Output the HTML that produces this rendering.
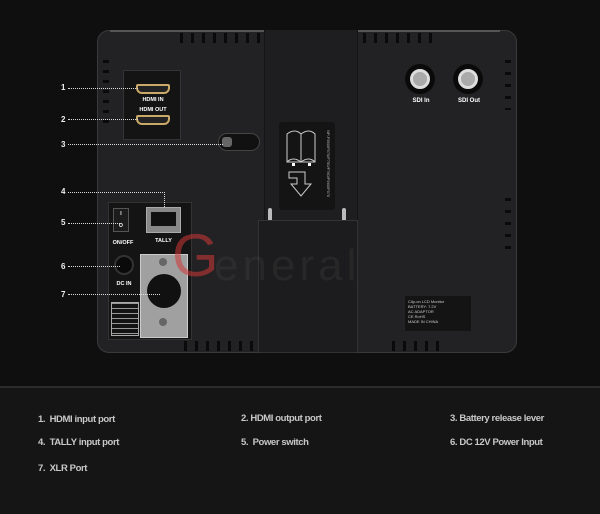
<!DOCTYPE html>
<html><head><meta charset="utf-8"><style>
*{margin:0;padding:0;box-sizing:border-box}
body{width:600px;height:514px;background:#0f0f0f;position:relative;overflow:hidden;font-family:"Liberation Sans",sans-serif}
.a{position:absolute}
.lbl{color:#c8c8c8;font-size:9.5px;font-weight:bold;letter-spacing:-0.4px}
.wt{color:#fff;font-size:5.5px;font-weight:bold;text-align:center}
.dot{border-top:1px dotted #ddd;height:0}
.n{color:#eee;font-size:8px;font-weight:bold}
</style></head><body>
<div class="a" style="left:97px;top:30px;width:420px;height:323px;background:#222224;border-radius:12px;border:1px solid #3a3a3c"></div>
<div class="a" style="left:110px;top:30px;width:390px;height:2px;background:#555"></div>
<div class="a" style="left:264px;top:30px;width:94px;height:323px;background:#1e1e20;border-left:1px solid #141414;border-right:1px solid #141414"></div>
<div class="a" style="left:279px;top:122px;width:56px;height:88px;background:#141414;border-radius:3px"></div>
<svg class="a" style="left:279px;top:122px" width="56" height="88">
<path d="M8 12 q8-6 14 0 v28 h-14z M22 12 q8-6 14 0 v28 h-14z" fill="none" stroke="#ccc" stroke-width="1"/>
<path d="M8 40 q6-6 14 0 q8-6 14 0" fill="none" stroke="#ccc" stroke-width="1"/>
<rect x="13" y="41" width="3" height="3" fill="#fff"/><rect x="29" y="41" width="3" height="3" fill="#fff"/>
<path d="M10 50 h16 v12 h6 l-10 12 l-10-12 h6 v-6 h-8z" fill="none" stroke="#ccc" stroke-width="1"/>
<text x="48" y="8" fill="#bbb" font-size="4" transform="rotate(90 48 8)" font-family="Liberation Sans">NP-F550/F570/F750/F760/F960/F970</text>
</svg>
<div class="a" style="left:268px;top:208px;width:4px;height:16px;background:#bbb;border-radius:2px"></div>
<div class="a" style="left:342px;top:208px;width:4px;height:16px;background:#bbb;border-radius:2px"></div>
<div class="a" style="left:258px;top:220px;width:100px;height:133px;background:#1c1c1e;border:1px solid #333"></div>
<div class="a" style="left:180px;top:33px;width:80px;height:10px;background:repeating-linear-gradient(90deg,#0a0a0a 0 3px,transparent 3px 11px)"></div>
<div class="a" style="left:363px;top:33px;width:70px;height:10px;background:repeating-linear-gradient(90deg,#0a0a0a 0 3px,transparent 3px 11px)"></div>
<div class="a" style="left:184px;top:341px;width:70px;height:10px;background:repeating-linear-gradient(90deg,#0a0a0a 0 3px,transparent 3px 11px)"></div>
<div class="a" style="left:392px;top:341px;width:50px;height:10px;background:repeating-linear-gradient(90deg,#0a0a0a 0 3px,transparent 3px 11px)"></div>
<div class="a" style="left:103px;top:60px;width:6px;height:70px;background:repeating-linear-gradient(180deg,#0a0a0a 0 3px,transparent 3px 10px)"></div>
<div class="a" style="left:505px;top:60px;width:6px;height:50px;background:repeating-linear-gradient(180deg,#0a0a0a 0 3px,transparent 3px 12px)"></div>
<div class="a" style="left:505px;top:198px;width:6px;height:60px;background:repeating-linear-gradient(180deg,#0a0a0a 0 3px,transparent 3px 12px)"></div>
<div class="a" style="left:123px;top:70px;width:58px;height:70px;background:#141414;border:1px solid #333"></div>
<div class="a" style="left:136px;top:84px;width:34px;height:10px;background:#222;border:2px solid #c9a86a;border-radius:2px 2px 6px 6px"></div>
<div class="a wt" style="left:130px;top:97px;width:46px">HDMI IN</div>
<div class="a wt" style="left:130px;top:107px;width:46px">HDMI OUT</div>
<div class="a" style="left:136px;top:115px;width:34px;height:10px;background:#222;border:2px solid #c9a86a;border-radius:2px 2px 6px 6px"></div>
<div class="a" style="left:218px;top:133px;width:42px;height:18px;background:#111;border:1px solid #444;border-radius:9px"></div>
<div class="a" style="left:222px;top:137px;width:10px;height:10px;background:#666;border-radius:3px"></div>
<div class="a" style="left:108px;top:202px;width:84px;height:138px;background:#141414;border:1px solid #333"></div>
<div class="a" style="left:113px;top:208px;width:16px;height:24px;background:#1c1c1c;border:1px solid #555"></div>
<div class="a wt" style="left:113px;top:211px;width:16px;font-size:5px">I<br><br>O</div>
<div class="a wt" style="left:110px;top:240px;width:26px">ON/OFF</div>
<div class="a" style="left:146px;top:207px;width:35px;height:26px;background:#888;border:1px solid #aaa"></div>
<div class="a" style="left:151px;top:212px;width:25px;height:14px;background:#111"></div>
<div class="a wt" style="left:146px;top:238px;width:35px">TALLY</div>
<div class="a" style="left:114px;top:255px;width:20px;height:20px;background:#0a0a0a;border:2px solid #333;border-radius:50%"></div>
<div class="a wt" style="left:110px;top:281px;width:28px">DC IN</div>
<div class="a" style="left:140px;top:254px;width:48px;height:84px;background:#a0a0a0;border:1px solid #ccc"></div>
<div class="a" style="left:147px;top:274px;width:34px;height:34px;background:#111;border-radius:50%"></div>
<div class="a" style="left:159px;top:258px;width:8px;height:8px;background:#666;border-radius:50%"></div>
<div class="a" style="left:159px;top:318px;width:8px;height:8px;background:#666;border-radius:50%"></div>
<div class="a" style="left:111px;top:302px;width:28px;height:34px;border:1px solid #aaa;background:repeating-linear-gradient(180deg,#999 0 1px,transparent 1px 5px)"></div>
<div class="a" style="left:405px;top:64px;width:30px;height:30px;background:#0a0a0a;border-radius:50%"></div>
<div class="a" style="left:410px;top:69px;width:20px;height:20px;background:#aaa;border:3px solid #ddd;border-radius:50%"></div>
<div class="a" style="left:453px;top:64px;width:30px;height:30px;background:#0a0a0a;border-radius:50%"></div>
<div class="a" style="left:458px;top:69px;width:20px;height:20px;background:#aaa;border:3px solid #ddd;border-radius:50%"></div>
<div class="a wt" style="left:406px;top:98px;width:30px;font-size:6px">SDI In</div>
<div class="a wt" style="left:452px;top:98px;width:34px;font-size:6px">SDI Out</div>
<div class="a" style="left:405px;top:296px;width:66px;height:35px;background:#141414;color:#ccc;font-size:4px;padding:3px;line-height:5px">Clip-on LCD Monitor<br>BATTERY: 7.2V<br>AC ADAPTOR<br>CE RoHS<br>MADE IN CHINA</div>
<div class="a" style="left:172px;top:226px;font-size:60px;line-height:60px;color:rgba(210,55,55,.55);font-weight:normal">G</div>
<div class="a" style="left:214px;top:244px;font-size:44px;line-height:44px;color:rgba(140,140,140,.1);letter-spacing:4px">eneral</div>
<div class="a n" style="left:61px;top:83px">1</div><div class="a dot" style="left:68px;top:88px;width:70px"></div>
<div class="a n" style="left:61px;top:115px">2</div><div class="a dot" style="left:68px;top:119px;width:70px"></div>
<div class="a n" style="left:61px;top:140px">3</div><div class="a dot" style="left:68px;top:144px;width:155px"></div>
<div class="a n" style="left:61px;top:187px">4</div><div class="a dot" style="left:68px;top:192px;width:97px"></div>
<div class="a" style="left:164px;top:192px;height:15px;border-left:1px dotted #ddd"></div>
<div class="a n" style="left:61px;top:218px">5</div><div class="a dot" style="left:68px;top:223px;width:52px"></div>
<div class="a n" style="left:61px;top:262px">6</div><div class="a dot" style="left:68px;top:266px;width:52px"></div>
<div class="a n" style="left:61px;top:290px">7</div><div class="a dot" style="left:68px;top:294px;width:92px"></div>
<div class="a" style="left:0;top:386px;width:600px;height:128px;background:#151515;border-top:2px solid #2c2c2c"></div>
<div class="a lbl" style="left:38px;top:414px">1.&nbsp; HDMI input port</div>
<div class="a lbl" style="left:241px;top:413px">2. HDMI output port</div>
<div class="a lbl" style="left:450px;top:413px">3. Battery release lever</div>
<div class="a lbl" style="left:38px;top:437px">4.&nbsp; TALLY input port</div>
<div class="a lbl" style="left:241px;top:437px">5.&nbsp; Power switch</div>
<div class="a lbl" style="left:450px;top:437px">6. DC 12V Power Input</div>
<div class="a lbl" style="left:38px;top:463px">7.&nbsp; XLR Port</div>
</body></html>
